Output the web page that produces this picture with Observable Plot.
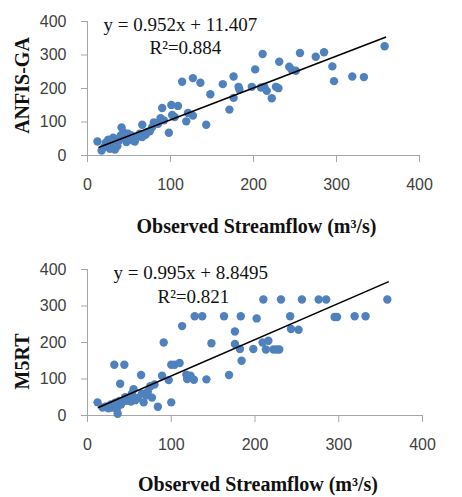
<!DOCTYPE html>
<html>
<head>
<meta charset="utf-8">
<script src="https://cdn.jsdelivr.net/npm/d3@7"></script>
<script src="https://cdn.jsdelivr.net/npm/@observablehq/plot@0.6"></script>
<style>
  html, body { margin: 0; padding: 0; background: #fff; }
  #wrap { position: relative; width: 462px; height: 497px; }
  #top, #bottom { position: absolute; left: 0; }
  #top { top: 0; }
  #bottom { top: 250px; }
</style>
</head>
<body>
<div id="wrap"><div id="top"></div><div id="bottom"></div></div>
<script>
const xTitle = "Observed Streamflow (m³/s)";
const ticks = [0, 100, 200, 300, 400];

// Panel 1: ANFIS-GA
const obsA = [12,17,20,22,25,27,29,31,33,35,36,38,40,41,43,45,47,49,50,53,55,57,60,63,66,66,70,72,75,78,80,85,88,90,92,98,101,102,105,109,114,119,121,127,127,136,143,148,163,171,176,176,182,183,198,202,209,211,213,216,222,227,230,231,243,246,251,256,275,285,295,297,319,333,358];
const anfis = [42,15,25,38,47,20,30,53,18,40,28,45,60,84,70,52,40,65,48,60,45,42,55,65,92,55,62,70,72,85,99,95,111,142,105,68,151,121,115,148,220,102,127,119,231,217,92,183,213,137,172,236,205,197,205,257,203,303,205,193,171,205,201,280,265,256,253,306,295,308,266,222,236,234,326];
const eqA = "y = 0.952x + 11.407";
const r2A = "R²=0.884";
const fitA = {slope: 0.952, intercept: 11.407, x0: 14, x1: 359};

// Panel 2: M5RT
const obsM = [12,18,22,25,28,30,32,33,35,36,38,39,40,42,44,45,47,50,52,53,55,57,60,64,65,67,70,72,75,77,80,84,89,91,97,100,100,104,110,113,118,119,123,127,128,137,142,148,163,169,176,176,182,183,184,198,202,209,210,213,216,222,226,229,231,242,243,252,256,276,285,295,298,319,332,358];
const m5rt = [36,22,25,20,30,22,139,35,18,5,40,87,30,38,139,50,40,45,38,60,72,42,48,111,60,36,55,65,80,49,85,24,109,200,97,36,139,139,144,245,112,100,109,98,272,272,99,198,272,111,230,196,182,272,150,182,266,200,318,181,205,181,181,181,318,272,237,235,318,318,318,270,270,272,272,318];
const eqM = "y = 0.995x + 8.8495";
const r2M = "R²=0.821";
const fitM = {slope: 0.995, intercept: 8.8495, x0: 13, x1: 359};

const axisGray = "#a6a6a6";
const textGray = "#404040";
const dotBlue = "#4f81bd";

function panel({obs, pred, yTitle, eq, r2, fit, height, mt, mr, mb, eqPos, r2Pos, yTitleDy, xTitleDy}) {
  const pts = obs.map((x, i) => ({x, y: pred[i]}));
  const line = [fit.x0, fit.x1].map(x => ({x, y: fit.slope * x + fit.intercept}));
  return Plot.plot({
    width: 462,
    height,
    marginLeft: 87,
    marginRight: mr,
    marginTop: mt,
    marginBottom: mb,
    style: {fontFamily: "Liberation Sans, Arial, sans-serif", fontSize: "16px", color: textGray, background: "#fff", overflow: "visible"},
    x: {domain: [0, 400]},
    y: {domain: [0, 400]},
    marks: [
      Plot.axisY(ticks, {tickSize: 6, tickPadding: 15, stroke: axisGray, fill: textGray, label: null, fontSize: 16}),
      Plot.axisX(ticks, {tickSize: 7, tickPadding: 16, stroke: axisGray, fill: textGray, label: null, fontSize: 16}),
      Plot.ruleX([0], {stroke: axisGray}),
      Plot.ruleY([0], {stroke: axisGray}),
      Plot.dot(pts, {x: "x", y: "y", r: 4.2, fill: dotBlue, stroke: null}),
      Plot.line(line, {x: "x", y: "y", stroke: "#000", strokeWidth: 1.6}),
      Plot.text([eq], {frameAnchor: "top-left", dx: eqPos[0], dy: eqPos[1], fontFamily: "Liberation Serif, Times New Roman, serif", fontSize: 19, fill: "#111", textAnchor: "start", lineAnchor: "bottom"}),
      Plot.text([r2], {frameAnchor: "top-left", dx: r2Pos[0], dy: r2Pos[1], fontFamily: "Liberation Serif, Times New Roman, serif", fontSize: 19, fill: "#111", textAnchor: "start", lineAnchor: "bottom"}),
      Plot.text([xTitle], {frameAnchor: "bottom", dx: 3, dy: xTitleDy, fontFamily: "Liberation Serif, Times New Roman, serif", fontWeight: "bold", fontSize: 20, fill: "#111", textAnchor: "middle", lineAnchor: "bottom"}),
      Plot.text([yTitle], {frameAnchor: "left", dx: -65, dy: yTitleDy, rotate: -90, fontFamily: "Liberation Serif, Times New Roman, serif", fontWeight: "bold", fontSize: 20, fill: "#111", textAnchor: "middle", lineAnchor: "middle"})
    ]
  });
}

document.getElementById("top").appendChild(panel({
  obs: obsA, pred: anfis, yTitle: "ANFIS-GA", eq: eqA, r2: r2A, fit: fitA,
  height: 250, mt: 21, mr: 43, mb: 95,
  eqPos: [103 - 87, 30 - 21], r2Pos: [149 - 87, 53 - 21], yTitleDy: -3, xTitleDy: 77
}));
document.getElementById("bottom").appendChild(panel({
  obs: obsM, pred: m5rt, yTitle: "M5RT", eq: eqM, r2: r2M, fit: fitM,
  height: 247, mt: 19, mr: 40, mb: 82,
  eqPos: [113 - 87, 28 - 19], r2Pos: [157 - 87, 52 - 19], yTitleDy: 19, xTitleDy: 75
}));
</script>
</body>
</html>
